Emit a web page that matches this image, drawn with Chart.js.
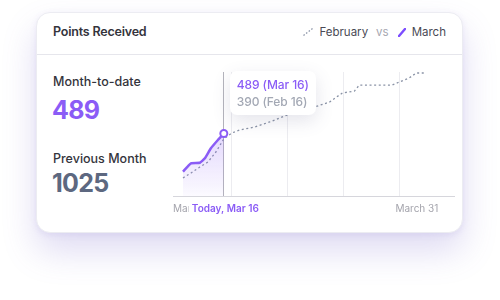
<!DOCTYPE html>
<html>
<head>
<meta charset="utf-8">
<script src="https://cdn.jsdelivr.net/npm/chart.js@4"></script>
<style>
  html,body{margin:0;padding:0;background:#fff;width:500px;height:300px;overflow:hidden;font-family:Inter,"Noto Sans",sans-serif;}
  .card{position:absolute;left:36px;top:12px;width:427px;height:221px;background:#fff;border-radius:14px;
        box-shadow:0 18px 34px rgba(110,90,200,0.22),0 2px 6px rgba(110,90,200,0.10);border:1px solid #ececf2;box-sizing:border-box;}
  .hdr{position:absolute;left:0;top:0;right:0;height:41px;border-bottom:1px solid #e6e6ec;}
  .title{position:absolute;left:16px;top:11px;font-size:12.5px;font-weight:600;color:#34343c;letter-spacing:-0.2px;}
  .legend{position:absolute;right:16px;top:12px;font-size:11.5px;color:#4a4a55;display:flex;align-items:center;}
  .legend .vs{color:#a6a6b0;margin:0 9px 0 8px;}
  .legend svg{margin-right:6px;}
  .lbl{position:absolute;left:16px;font-size:12.5px;color:#34343c;font-weight:500;}
  .big{position:absolute;left:15px;font-size:25px;font-weight:650;letter-spacing:-0.7px;}
  #wrap{position:absolute;left:160px;top:62px;width:300px;height:160px;}
  #tip{position:absolute;background:#fff;border-radius:7px;box-shadow:0 6px 18px rgba(90,90,130,0.16);
       padding:5px 7px;font-size:12px;font-weight:500;line-height:17px;white-space:nowrap;letter-spacing:-0.1px;}
</style>
</head>
<body>
<div class="card">
  <div class="hdr">
    <div class="title" id="title"></div>
    <div class="legend">
      <svg width="10" height="8" viewBox="0 0 10 8"><line x1="0.5" y1="7.5" x2="9.5" y2="0.5" stroke="#8a93a6" stroke-width="1.3" stroke-dasharray="1.5 1.8"/></svg>
      <span id="lgFeb"></span><span class="vs">vs</span>
      <svg width="8" height="9" viewBox="0 0 8 9"><line x1="1" y1="8" x2="7" y2="1" stroke="#7c4dff" stroke-width="2.4" stroke-linecap="round"/></svg>
      <span id="lgMar"></span>
    </div>
  </div>
  <div class="lbl" style="top:61px" id="l1"></div>
  <div class="big" style="top:82px;color:#8b5cf6" id="v1"></div>
  <div class="lbl" style="top:138px" id="l2"></div>
  <div class="big" style="top:155px;color:#5d6880" id="v2"></div>
</div>
<div id="wrap"><canvas id="c"></canvas></div>
<div id="tip"></div>
<script>
// ---- data ----
const titleText = "Points Received";
const seriesNames = ["February", "March"];
const statLabels = ["Month-to-date", "Previous Month"];
const statValues = [489, 1025];

// horizontal position on the month axis, and points value
const marchX = [1.99, 2.99, 4.10, 4.72, 5.47, 6.34, 7.08];
const marchY = [190, 256, 260, 295, 373, 438, 489];
const febX = [1.99, 2.99, 4.10, 5.10, 6.09, 7.08, 8.07, 9.06, 10.93, 12.79, 14.65, 16.51, 18.38, 20.24, 21.85, 23.34, 23.96, 25.82, 28.06, 28.93, 30.17, 31.04, 32.03];
const febY = [141, 180, 227, 266, 344, 446, 493, 516, 540, 579, 626, 665, 696, 735, 806, 821, 868, 868, 868, 892, 923, 962, 962];

const gridX = [7.08, 8, 15, 22, 29];          // vertical grid lines (first = today)
const tickLabels = ["March 1", "Today, Mar 16", "March 31"];
const tickX = [1, 7.08, 31];
const tipLines = ["489 (Mar 16)", "390 (Feb 16)"];
const xRange = [0.75, 35.75];
const yRange = [0, 970];

// ---- text ----
document.getElementById('title').textContent = titleText;
document.getElementById('lgFeb').textContent = seriesNames[0];
document.getElementById('lgMar').textContent = seriesNames[1];
document.getElementById('l1').textContent = statLabels[0];
document.getElementById('l2').textContent = statLabels[1];
document.getElementById('v1').textContent = statValues[0];
document.getElementById('v2').textContent = statValues[1];
const tip = document.getElementById('tip');
tip.innerHTML = '<div style="color:#8b5cf6">' + tipLines[0] + '</div><div style="color:#a3a8b4">' + tipLines[1] + '</div>';

const PURPLE = '#8b5cf6';
const todayX = marchX[marchX.length - 1];

const labelsPlugin = {
  id: 'xLabels',
  afterDraw(chart) {
    const ctx = chart.ctx, xs = chart.scales.x, ca = chart.chartArea;
    const y = ca.bottom + 13;
    ctx.save();
    ctx.textBaseline = 'middle';
    ctx.font = '400 10px Inter, sans-serif';
    ctx.fillStyle = '#a4a4ac';
    ctx.textAlign = 'left';
    ctx.fillText(tickLabels[0], ca.left, y);
    // today label with white backdrop
    const tx = xs.getPixelForValue(tickX[1]) - 32;
    ctx.font = '600 10px Inter, sans-serif';
    const w = ctx.measureText(tickLabels[1]).width;
    ctx.fillStyle = '#fff';
    ctx.fillRect(tx - 3, y - 8, w + 6, 16);
    ctx.fillStyle = PURPLE;
    ctx.fillText(tickLabels[1], tx, y);
    ctx.font = '400 10px Inter, sans-serif';
    ctx.fillStyle = '#a4a4ac';
    ctx.textAlign = 'center';
    ctx.fillText(tickLabels[2], xs.getPixelForValue(tickX[2]) + 1, y);
    ctx.restore();
    // place tooltip next to today's point
    const px = xs.getPixelForValue(todayX), py = chart.scales.y.getPixelForValue(marchY[marchY.length - 1]);
    const r = chart.canvas.getBoundingClientRect();
    tip.style.left = (r.left + px + 6) + 'px';
    tip.style.top = (r.top + py - 62) + 'px';
  }
};

new Chart(document.getElementById('c'), {
  type: 'line',
  data: {
    datasets: [
      {
        label: seriesNames[1],
        data: marchX.map((x, i) => ({x, y: marchY[i]})),
        borderColor: PURPLE,
        borderWidth: 2.5,
        tension: 0.15,
        fill: 'origin',
        backgroundColor: (c) => {
          const ca = c.chart.chartArea;
          if (!ca) return 'rgba(139,92,246,0.15)';
          const g = c.chart.ctx.createLinearGradient(0, ca.top + 55, 0, ca.bottom);
          g.addColorStop(0, 'rgba(139,92,246,0.26)');
          g.addColorStop(1, 'rgba(139,92,246,0.03)');
          return g;
        },
        pointRadius: (c) => c.dataIndex === marchX.length - 1 ? 3.5 : 0,
        pointBackgroundColor: '#fff',
        pointBorderColor: PURPLE,
        pointBorderWidth: 2,
        order: 0
      },
      {
        label: seriesNames[0],
        data: febX.map((x, i) => ({x, y: febY[i]})),
        borderColor: '#8a93a6',
        borderWidth: 1.3,
        borderDash: [2, 2.6],
        tension: 0,
        fill: false,
        pointRadius: 0,
        order: 1
      }
    ]
  },
  options: {
    responsive: true,
    maintainAspectRatio: false,
    animation: false,
    events: [],
    layout: { padding: { left: 13, right: 5, top: 10, bottom: 26 } },
    plugins: { legend: { display: false }, tooltip: { enabled: false } },
    scales: {
      x: {
        type: 'linear', min: xRange[0], max: xRange[1],
        afterBuildTicks: (s) => { s.ticks = gridX.map(v => ({value: v})); },
        ticks: { display: false },
        grid: {
          drawTicks: false,
          color: (c) => (c.tick && c.tick.value === todayX) ? '#b4b4bc' : '#ececf0',
          lineWidth: 1
        },
        border: { display: true, color: '#d6d6dc', width: 1 }
      },
      y: { type: 'linear', min: yRange[0], max: yRange[1], display: false }
    }
  },
  plugins: [labelsPlugin]
});
</script>
</body>
</html>
